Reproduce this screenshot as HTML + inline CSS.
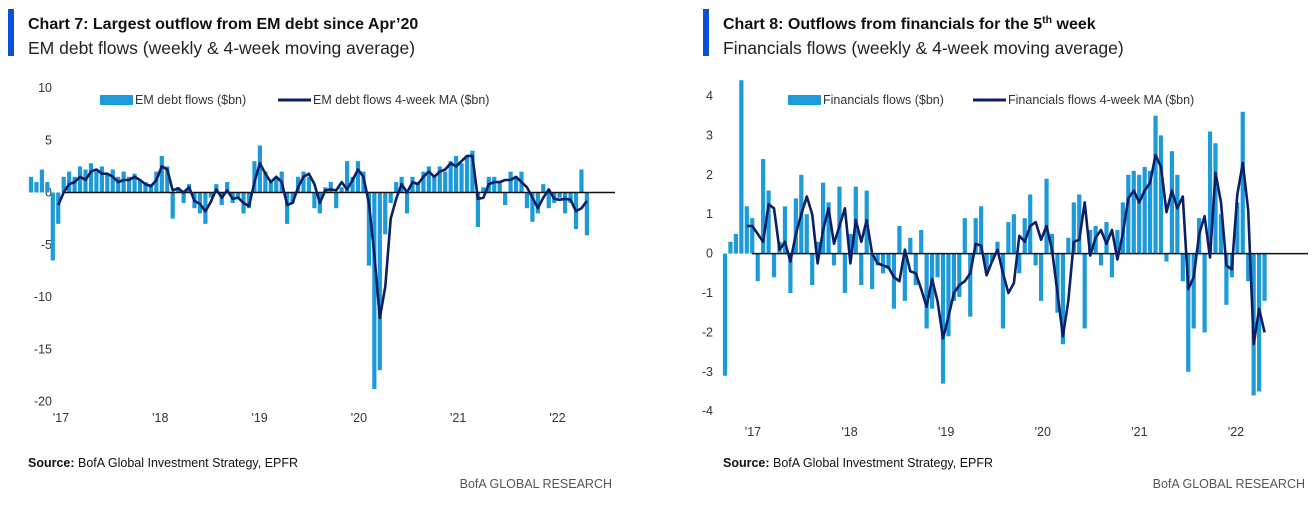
<!DOCTYPE html>
<html><head><meta charset="utf-8"><style>
body{margin:0;background:#fff;width:1316px;height:508px;overflow:hidden;font-family:"Liberation Sans",sans-serif;color:#222}
svg{position:absolute;left:0;top:0}
</style></head><body>
<svg id="s" width="1316" height="508">
<rect x="8" y="9" width="6" height="47" fill="#0a4fd6"/>
<text x="28" y="29" font-size="16" font-weight="bold" fill="#111">Chart 7: Largest outflow from EM debt since Apr’20</text>
<text x="28" y="54" font-size="17.5" fill="#222">EM debt flows (weekly &amp; 4-week moving average)</text>
<rect x="703" y="9" width="6" height="47" fill="#0a4fd6"/>
<text x="723" y="29" font-size="16" font-weight="bold" fill="#111">Chart 8: Outflows from financials for the 5<tspan font-size="10.5" dy="-6">th</tspan><tspan dy="6"> week</tspan></text>
<text x="723" y="54" font-size="17.5" fill="#222">Financials flows (weekly &amp; 4-week moving average)</text>
<text x="28" y="467" font-size="12.5" fill="#111"><tspan font-weight="bold">Source:</tspan>  BofA Global Investment Strategy, EPFR</text>
<text x="612" y="488" font-size="12.5" fill="#555" text-anchor="end">BofA GLOBAL RESEARCH</text>
<text x="723" y="467" font-size="12.5" fill="#111"><tspan font-weight="bold">Source:</tspan>  BofA Global Investment Strategy, EPFR</text>
<text x="1305" y="488" font-size="12.5" fill="#555" text-anchor="end">BofA GLOBAL RESEARCH</text>
<g id="c7"></g>
<g id="c8"></g>
</svg>
<script>
const emYears=["'17","'18","'19","'20","'21","'22"];
const emTicks=[10,5,0,-5,-10,-15,-20];
const emFlows=[1.5,1.0,2.2,1.0,-6.5,-3.0,1.5,2.0,1.5,2.5,2.2,2.8,2.0,2.5,1.8,2.2,1.5,2.0,1.5,1.8,1.2,1.0,0.8,2.0,3.5,2.5,-2.5,0.5,-1.0,0.8,-1.5,-2.0,-3.0,-0.5,0.8,-1.2,1.0,-1.0,-0.5,-2.0,-1.5,3.0,4.5,2.0,1.0,1.5,2.0,-3.0,-1.0,1.5,2.0,1.5,-1.5,-2.0,0.5,1.0,-1.5,0.5,3.0,1.5,3.0,2.0,-7.0,-18.8,-17.0,-4.0,-1.0,1.0,1.5,-2.0,1.5,1.0,2.0,2.5,1.5,2.5,2.0,3.0,3.5,2.8,3.5,4.0,-3.3,0.5,1.5,1.5,1.0,-1.2,2.0,1.5,2.0,-1.5,-2.8,-2.0,0.8,-1.5,-1.0,-0.5,-2.0,-1.0,-3.5,2.2,-4.1];
const emMA=[null,null,null,null,null,-1.2,0,0.8,1.0,1.5,1.2,2.0,2.2,1.8,1.8,1.5,1.0,1.2,1.2,1.5,1.2,0.8,0.6,1.2,2.5,2.2,0.2,0.4,0,0.5,-0.8,-1.1,-1.8,-0.9,0.3,-0.5,0.2,-0.6,-0.5,-1.0,-1.3,1.0,2.8,1.8,1.0,1.5,1.0,-1.2,-1.0,0.5,1.5,1.8,0.8,-1.0,0.2,0.3,0.2,1.0,0.3,1.2,2.2,1.5,-1,-6,-12,-9,-2.5,-0.6,0.8,0,1.0,0.8,1.5,2.0,1.5,2.0,2.2,2.8,2.5,3.0,3.5,3.5,-0.6,-0.5,0.8,1.0,1.0,1.2,1.2,1.5,1.0,0.5,-0.5,-1.5,-0.5,0.3,-0.6,-0.7,-0.6,-0.7,-1.8,-1.5,-0.8];
const finYears=["'17","'18","'19","'20","'21","'22"];
const finTicks=[4,3,2,1,0,-1,-2,-3,-4];
const finFlows=[-3.1,0.3,0.5,4.4,1.2,0.9,-0.7,2.4,1.6,-0.6,0.3,1.2,-1.0,1.4,2.0,1.0,-0.8,0.3,1.8,1.3,-0.3,1.7,-1.0,0.5,1.7,-0.8,1.6,-0.9,-0.3,-0.5,-0.4,-1.4,0.7,-1.2,0.4,-0.8,0.6,-1.9,-1.4,-0.6,-3.3,-2.1,-1.2,-1.1,0.9,-1.6,0.9,1.2,-0.5,-0.2,0.3,-1.9,0.8,1.0,-0.5,0.9,1.5,-0.3,-1.2,1.9,0.5,-1.5,-2.3,0.4,1.3,1.5,-1.9,0.6,0.7,-0.3,0.8,-0.6,0.6,1.3,2.0,2.1,2.0,2.2,2.1,3.5,3.0,-0.2,2.6,2.0,-0.7,-3.0,-1.9,0.9,-2.0,3.1,2.8,1.0,-1.3,-0.6,1.3,3.6,-0.7,-3.6,-3.5,-1.2];
const finMA=[null,null,null,null,0.7,0.7,0.5,0.3,1.25,1.15,0.1,0.3,-0.2,0.5,1.0,1.45,1.0,-0.25,0.6,1.15,0.25,0.7,1.15,-0.25,0.85,0.3,0.85,0,-0.25,-0.3,-0.35,-0.6,-0.7,0.1,-0.45,-0.5,-0.9,-1.35,-0.65,-1.2,-2.15,-1.6,-1.0,-0.8,-0.7,-0.5,0.25,0.2,-0.55,-0.2,0.1,-0.5,-1.0,-0.75,0.45,0.3,0.7,0.8,0.35,0.7,0.1,-1.0,-2.1,-1.2,0.3,0.35,1.3,-0.05,0.4,0.6,0.25,0.6,-0.15,0.5,1.4,1.6,1.3,1.6,1.8,2.5,2.2,1.05,1.6,1.15,1.45,-0.9,-0.6,0.5,0.95,-0.1,2.05,1.3,-0.3,-0.4,1.5,2.3,1.1,-2.3,-1.4,-2.0];

const NS='http://www.w3.org/2000/svg';
function mk(p,t,a){const e=document.createElementNS(NS,t);for(const k in a)e.setAttribute(k,a[k]);p.appendChild(e);return e;}
function draw(g,cfg){
  const y=v=>cfg.y0+(cfg.yTop-v)*cfg.ppu;
  const x=i=>cfg.x0+i*cfg.step;
  cfg.ticks.forEach(t=>{const e=mk(g,'text',{x:cfg.tickX,y:y(t)+4,'font-size':12.5,'text-anchor':'end',fill:'#333'});e.textContent=String(t);
    
    });
  cfg.years.forEach((t,k)=>{const e=mk(g,'text',{x:cfg.yearX0+k*cfg.yearStep,y:cfg.yearY,'font-size':12.5,'text-anchor':'middle',fill:'#333'});e.textContent=t;
    
    });
  cfg.flows.forEach((v,i)=>{const a=y(0),b=y(v);const r=mk(g,'rect',{x:x(i)-cfg.bw/2,y:Math.min(a,b),width:cfg.bw,height:Math.max(0.5,Math.abs(a-b)),fill:'#1c9ad9'});
    
    });
  const zl=mk(g,'line',{x1:cfg.axisX1,x2:cfg.axisX2,y1:y(0),y2:y(0),stroke:'#111','stroke-width':1.5});
  
  
  let d='';cfg.ma.forEach((v,i)=>{if(v===null)return;d+=(d?'L':'M')+x(i).toFixed(1)+','+y(v).toFixed(1);});
  const p=mk(g,'path',{d:d,fill:'none',stroke:'#0c1f66','stroke-width':2.6,'stroke-linejoin':'round'});
  
  
  const L=cfg.leg;
  const s1=mk(g,'rect',{x:L[0],y:95,width:33,height:10,fill:'#1c9ad9'});
  
  
  const t1=mk(g,'text',{x:L[0]+35,y:104,'font-size':12.5,fill:'#333'});t1.textContent=cfg.n1;
  
  
  const s2=mk(g,'line',{x1:L[1],x2:L[1]+33,y1:100,y2:100,stroke:'#0c1f66','stroke-width':3});
  
  
  const t2=mk(g,'text',{x:L[1]+35,y:104,'font-size':12.5,fill:'#333'});t2.textContent=cfg.n2;
  
  
}
draw(document.getElementById('c7'),{y0:88,yTop:10,ppu:10.45,x0:31,step:5.45,bw:4.2,ticks:emTicks,tickX:52,years:emYears,yearX0:61,yearStep:99.3,yearY:422,flows:emFlows,ma:emMA,axisX1:65,axisX2:615,leg:[100,278],n1:'EM debt flows ($bn)',n2:'EM debt flows 4-week MA ($bn)'});
draw(document.getElementById('c8'),{y0:96,yTop:4,ppu:39.4,x0:725,step:5.45,bw:4.2,ticks:finTicks,tickX:713,years:finYears,yearX0:753,yearStep:96.6,yearY:436,flows:finFlows,ma:finMA,axisX1:752,axisX2:1308,leg:[788,973],n1:'Financials flows ($bn)',n2:'Financials flows 4-week MA ($bn)'});
</script>
</body></html>
